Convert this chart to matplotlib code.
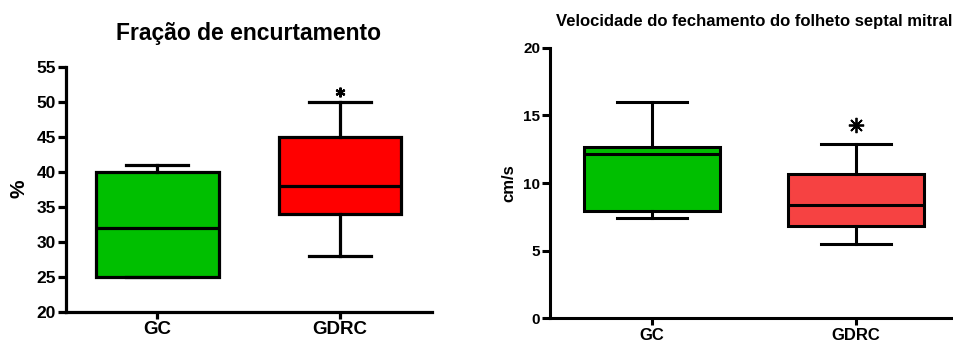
import matplotlib
matplotlib.use('Agg')
import matplotlib.pyplot as plt

plt.rcParams['font.family'] = ['Liberation Sans', 'DejaVu Sans']
plt.rcParams['font.weight'] = 'bold'

groups = ['GC', 'GDRC']

# fractional shortening (%): min, q1, median, q3, max
fs_min = [25, 28]
fs_q1 = [25, 34]
fs_med = [32, 38]
fs_q3 = [40, 45]
fs_max = [41, 50]
fs_colors = ['#00BF00', '#FF0000']
fs_signif = ['', '*']

# septal mitral leaflet closing velocity (cm/s)
vel_min = [7.4, 5.5]
vel_q1 = [7.95, 6.8]
vel_med = [12.15, 8.35]
vel_q3 = [12.65, 10.7]
vel_max = [16.0, 12.9]
vel_colors = ['#00BF00', '#F64242']
vel_signif = ['', '*']


def box_stats(mins, q1s, meds, q3s, maxs):
    stats = []
    for lo, q1, med, q3, hi in zip(mins, q1s, meds, q3s, maxs):
        stats.append({'whislo': lo, 'q1': q1, 'med': med, 'q3': q3,
                      'whishi': hi, 'fliers': []})
    return stats


def draw_panel(ax, stats, colors, signif, lw, tick_size, label_size, star):
    line = dict(color='black', linewidth=lw)
    bp = ax.bxp(stats, positions=range(len(stats)), widths=0.67,
                patch_artist=True, showfliers=False,
                boxprops=dict(edgecolor='black', linewidth=lw),
                medianprops=line, whiskerprops=line,
                capprops=line, capwidths=0.34)
    for patch, c in zip(bp['boxes'], colors):
        patch.set_facecolor(c)
    # significance mark above the upper whisker
    for i, (s, mark) in enumerate(zip(stats, signif)):
        if mark:
            ax.plot(i, s['whishi'] + star['offset'], linestyle='none',
                    marker=star['marker'], ms=star['ms'], mew=star['mew'],
                    color='black', clip_on=False)
    ax.set_xlim(-0.5, 1.5)
    ax.set_xticks(range(len(groups)))
    ax.set_xticklabels(groups, fontsize=label_size, fontweight='bold')
    ax.spines['top'].set_visible(False)
    ax.spines['right'].set_visible(False)
    ax.spines['left'].set_linewidth(lw)
    ax.spines['bottom'].set_linewidth(lw)
    ax.tick_params(axis='y', width=lw, length=6, pad=1, labelsize=tick_size)
    ax.tick_params(axis='x', width=lw, length=5, pad=2)


fig = plt.figure(figsize=(9.54, 3.42), dpi=100)

ax1 = fig.add_axes([0.0689, 0.0886, 0.3836, 0.7164])
draw_panel(ax1, box_stats(fs_min, fs_q1, fs_med, fs_q3, fs_max),
           fs_colors, fs_signif, 2.3, 12.5, 13.5,
           dict(marker=(6, 2, 0), ms=7, mew=1.6, offset=1.4))
ax1.set_ylim(20, 55)
ax1.set_yticks(range(20, 56, 5))
ax1.set_ylabel('%', fontsize=15, fontweight='bold', labelpad=6)
ax1.set_title('Fração de encurtamento', fontsize=16.5, fontweight='bold', pad=19.5)

ax2 = fig.add_axes([0.5765, 0.0693, 0.4277, 0.7912])
draw_panel(ax2, box_stats(vel_min, vel_q1, vel_med, vel_q3, vel_max),
           vel_colors, vel_signif, 2.2, 11, 12,
           dict(marker=(8, 2, 0), ms=11, mew=1.3, offset=1.4))
ax2.set_ylim(0, 20)
ax2.set_yticks(range(0, 21, 5))
ax2.set_ylabel('cm/s', fontsize=12, fontweight='bold', labelpad=5)
ax2.set_title('Velocidade do fechamento do folheto septal mitral',
              fontsize=12, fontweight='bold', pad=15.5)

fig.savefig('out.png', dpi=100)
